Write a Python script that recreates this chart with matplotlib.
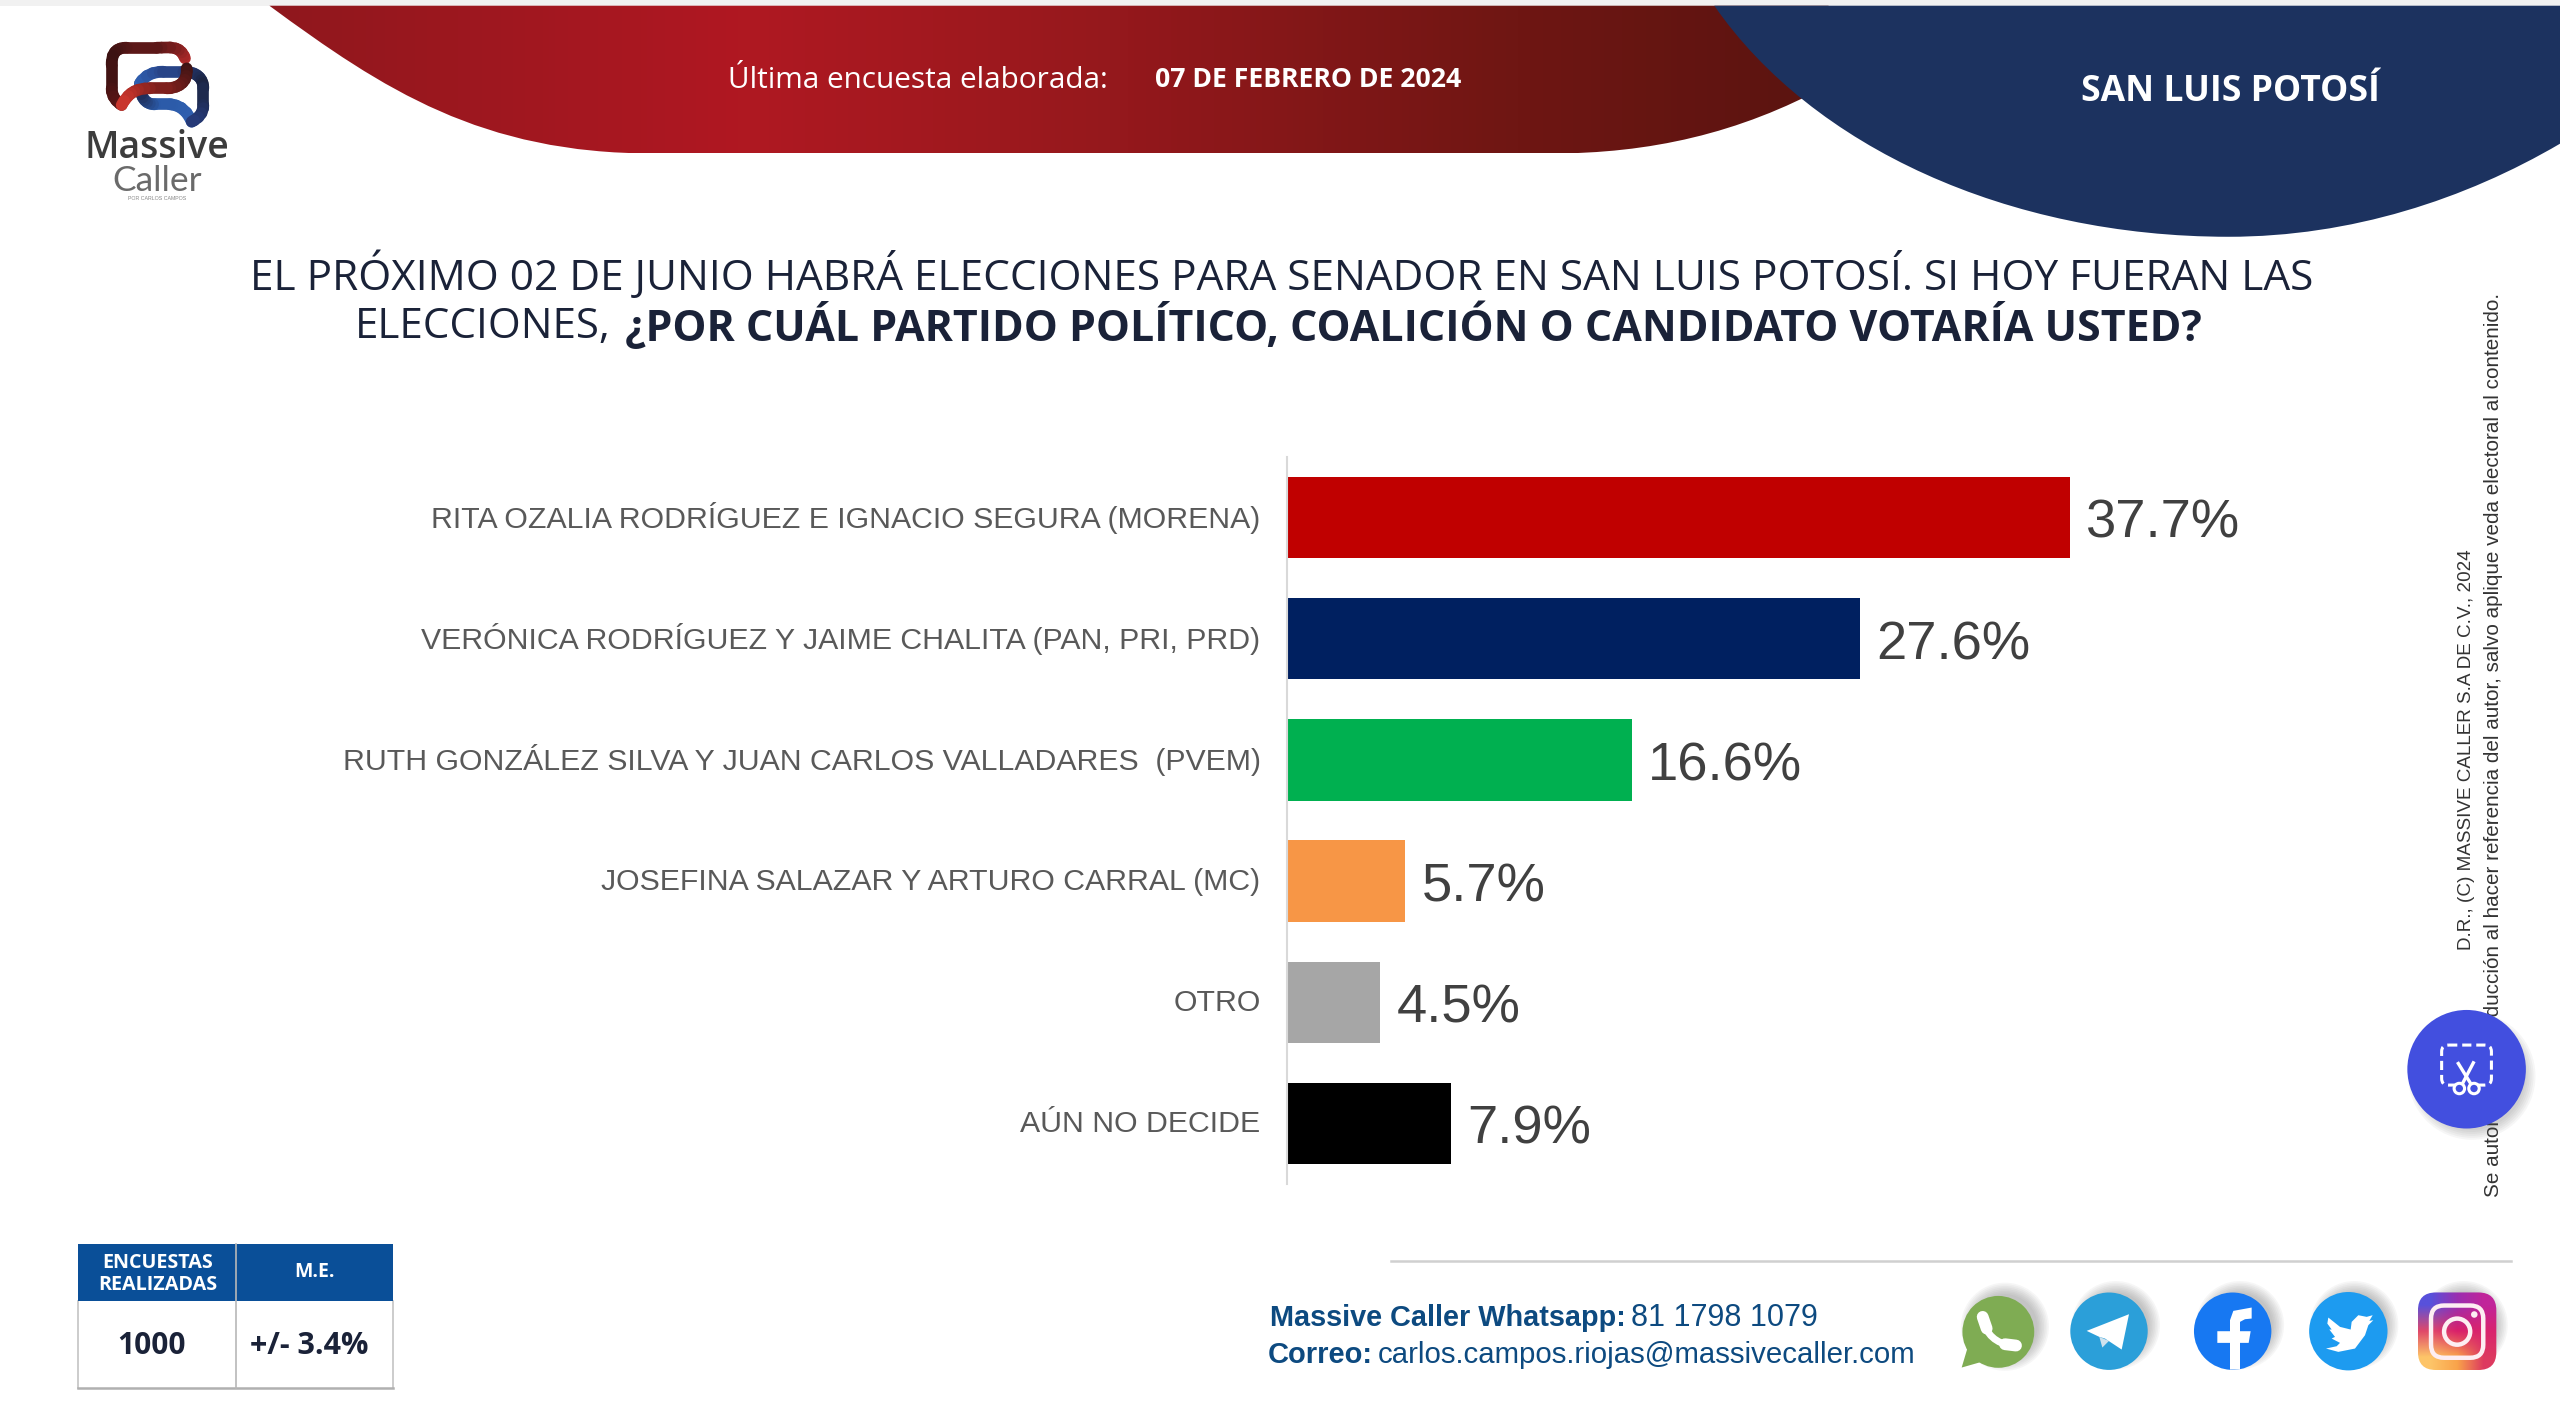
import numpy as np
import matplotlib
matplotlib.use("Agg")
import matplotlib.pyplot as plt
from matplotlib.patches import PathPatch, Circle, FancyBboxPatch, Rectangle, Polygon, Ellipse
from matplotlib.path import Path
from matplotlib.colors import LinearSegmentedColormap, to_rgb
from matplotlib.collections import LineCollection
from matplotlib.transforms import ScaledTranslation

categories = ["RITA OZALIA RODRÍGUEZ E IGNACIO SEGURA (MORENA)",
              "VERÓNICA RODRÍGUEZ Y JAIME CHALITA (PAN, PRI, PRD)",
              "RUTH GONZÁLEZ SILVA Y JUAN CARLOS VALLADARES  (PVEM)",
              "JOSEFINA SALAZAR Y ARTURO CARRAL (MC)",
              "OTRO",
              "AÚN NO DECIDE"]
values = [37.7, 27.6, 16.6, 5.7, 4.5, 7.9]
bar_colors = ["#c00000", "#002060", "#00b050", "#f79646", "#a6a6a6", "#000000"]

W, H = 2560, 1419
K = 2560/1568
fig = plt.figure(figsize=(W/100, H/100), dpi=100, facecolor="white")
SANS = "Liberation Sans"
HEAD = "Open Sans"

# ---------- chart ----------
ax = fig.add_axes([1287/W, 1-1184/H, 831/W, 727/H])
y = np.arange(len(values))
bars = ax.barh(y, values, height=0.67, color=bar_colors)
ax.set_xlim(0, 40)
ax.set_ylim(5.5, -0.5)
ax.set_yticks(y, categories, fontname=SANS, fontsize=21.8, color="#595959")
ax.tick_params(axis="y", length=0, pad=19)
for lab in ax.get_yticklabels():
    lab.set_transform(lab.get_transform() + ScaledTranslation(0, 0.025, fig.dpi_scale_trans))
ax.set_xticks([])
for s in ["top", "right", "bottom"]:
    ax.spines[s].set_visible(False)
ax.spines["left"].set_color("#d9d9d9")
ax.spines["left"].set_linewidth(1.5)
ax.patch.set_alpha(0)
for b, v in zip(bars, values):
    ax.annotate(f"{v}%", (v, b.get_y()+b.get_height()/2), xytext=(11.5, -4.5),
                textcoords="offset points", va="center", ha="left",
                fontname=SANS, fontsize=39.2, color="#404040")

# ---------- overlay in reference-view coordinates ----------
ov = fig.add_axes([0, 0, 1, 1], zorder=-1)
ov.set_xlim(0, 1568); ov.set_ylim(869, 0); ov.axis("off")

ov.add_patch(Rectangle((0, 0), 1568, 3.5, color="#f1f1f1", lw=0))

M, C, L, Z = Path.MOVETO, Path.CURVE4, Path.LINETO, Path.CLOSEPOLY
# red banner
red = Path([(165, 3.5), (235, 55), (295, 94), (400, 94), (600, 94), (760, 94), (950, 94),
            (1010, 94), (1065, 82), (1120, 52), (1120, 3.5), (165, 3.5)],
           [M, C, C, C, L, L, L, C, C, C, L, Z])
cm = LinearSegmentedColormap.from_list("r", [(0, "#8f171d"), (0.3, "#b01822"), (0.55, "#94181c"),
                                             (0.8, "#6f1613"), (1, "#5a1410")])
im = ov.imshow(np.linspace(0, 1, 256)[None, :], extent=[165, 1120, 94, 3.5], cmap=cm, aspect="auto", zorder=1)
im.set_clip_path(PathPatch(red, transform=ov.transData))

# navy banner
navy = Path([(1050, 3.5), (1110, 90), (1230, 145), (1365, 145), (1440, 145), (1510, 122), (1568, 88),
             (1568, 3.5), (1050, 3.5)], [M, C, C, C, C, C, C, L, Z])
ov.add_patch(PathPatch(navy, fc="#1c325f", lw=0, zorder=2))

ov.text(562, 49, "Última encuesta elaborada:", color="white", ha="center", va="center",
        fontname=HEAD, fontsize=21.4, zorder=3)
ov.text(801, 49, "07 DE FEBRERO DE 2024", color="white", ha="center", va="center",
        fontname=HEAD, fontsize=19.2, fontweight="bold", zorder=3)
ov.text(1366, 56.5, "SAN LUIS POTOSÍ", color="white", ha="center", va="center",
        fontname=HEAD, fontsize=25.6, fontweight="bold", zorder=3)

# logo
def z1(p):
    return ((60+p[0]/3)/K, (25+p[1]/3)/K)
def ribbon(points, codes, colors, lw=8.4, z=4):
    pth = Path([z1(p) for p in points], codes)
    poly = pth.interpolated(1).to_polygons(closed_only=False)[0]
    d = np.linspace(0, 1, len(poly)-1)
    rgb = LinearSegmentedColormap.from_list("g", colors)(d)
    segs = np.stack([poly[:-1], poly[1:]], axis=1)
    ov.add_collection(LineCollection(segs, colors=rgb, linewidths=lw, capstyle="round", zorder=z))
ribbon([(375, 100), (360, 60), (330, 68), (290, 68), (200, 68), (160, 68), (155, 95), (155, 120),
        (155, 190), (155, 215), (170, 230), (185, 240)],
       [M, C, C, C, L, C, C, C, L, C, C, C], ["#b02a2a", "#5e1818", "#3a1212", "#5a1616"], z=3)
ribbon([(380, 130), (385, 175), (350, 190), (320, 190), (270, 190), (225, 190), (205, 205), (185, 240)],
       [M, C, C, C, L, C, C, C], ["#3e1414", "#7a1e1c", "#c9352c"], z=5)
ribbon([(240, 175), (255, 150), (280, 140), (310, 140), (370, 140), (410, 140), (430, 160), (430, 190),
        (430, 240), (430, 265), (415, 280), (395, 290)],
       [M, C, C, C, L, C, C, C, L, C, C, C], ["#2f62b5", "#263a78", "#1b2440", "#263a78"], z=4)
ribbon([(395, 290), (385, 265), (365, 240), (330, 238), (285, 238), (255, 238), (240, 215), (240, 175)],
       [M, C, C, C, L, C, C, C], ["#3060b0", "#2b5aa8", "#1d2950"], z=2)
ov.text(96, 97, "Massive", ha="center", va="baseline", fontname=HEAD, fontweight="semibold",
        fontsize=27, color="#3c3c3c", zorder=3)
ov.text(96, 117, "Caller", ha="center", va="baseline", fontname="Lato", fontweight="normal",
        fontsize=25.5, color="#6a6a6a", zorder=3)
ov.text(96, 121.5, "POR CARLOS CAMPOS", ha="center", va="center", fontname=SANS, fontsize=3.8, color="#888888")

# question
NAVYTXT = "#1a2238"
ov.text(785, 169, "EL PRÓXIMO 02 DE JUNIO HABRÁ ELECCIONES PARA SENADOR EN SAN LUIS POTOSÍ. SI HOY FUERAN LAS",
        ha="center", va="center", fontname=HEAD, fontsize=30.5, color=NAVYTXT)
ov.text(374, 200.5, "ELECCIONES,", ha="right", va="center", fontname=HEAD, fontsize=30.3, color=NAVYTXT)
ov.text(383, 200, "¿POR CUÁL PARTIDO POLÍTICO, COALICIÓN O CANDIDATO VOTARÍA USTED?",
        ha="left", va="center", fontname=HEAD, fontsize=30.9, fontweight="bold", color=NAVYTXT)

# sample table
ov.plot([48, 48], [797, 850], color="#c4c4c4", lw=1.2)
ov.plot([241, 241], [797, 850], color="#c4c4c4", lw=1.2)
ov.plot([144.5, 144.5], [762, 850], color="#b8b8b8", lw=1.2, zorder=3)
ov.plot([48, 241], [849.8, 849.8], color="#b0b0b0", lw=1.8)
ov.add_patch(Rectangle((48, 762), 193, 35, fc="#0a4f98", lw=0, zorder=2))
ov.text(96.5, 780, "ENCUESTAS\nREALIZADAS", color="white", ha="center", va="center", fontname=HEAD,
        fontsize=14.2, fontweight="bold", linespacing=1.15, zorder=4)
ov.text(192.5, 779, "M.E.", color="white", ha="center", va="center", fontname=HEAD, fontsize=14, fontweight="bold", zorder=4)
ov.text(92.5, 824, "1000", color="#1a2238", ha="center", va="center", fontname=HEAD, fontsize=21.5, fontweight="bold")
ov.text(189.5, 824, "+/- 3.4%", color="#1a2238", ha="center", va="center", fontname=HEAD, fontsize=22, fontweight="bold")

# footer
ov.plot([852, 1538], [772, 772], color="#d0d0d0", lw=1.8)
FB = "#0d4a80"
ov.text(996, 807, "Massive Caller Whatsapp:", ha="right", va="center", fontname=SANS, fontsize=20.8, fontweight="bold", color=FB)
ov.text(999, 807, "81 1798 1079", ha="left", va="center", fontname=SANS, fontsize=22, color=FB)
ov.text(841, 830, "Correo:", ha="right", va="center", fontname=SANS, fontsize=21, fontweight="bold", color=FB)
ov.text(844, 830, "carlos.campos.riojas@massivecaller.com", ha="left", va="center", fontname=SANS, fontsize=21.2, color=FB)

# social icons
def z2(zx, zy):
    return ((1940+zx/3)/K, (1270+zy/3)/K)
def z3(zx, zy):
    return ((2230+zx/3)/K, (1270+zy/3)/K)
def shadow(cx, cy, r):
    for g in np.linspace(4, -3, 8):
        ov.add_patch(Ellipse((cx+4, cy-3.5), 2*(r+g), 2*(r+g), fc="#666666", alpha=0.055, lw=0, zorder=2))
for cx, cy in [(1224, 816), (1292, 815), (1368, 815), (1438, 815), (1505, 815)]:
    shadow(cx, cy, 23)

# whatsapp
ov.add_patch(Circle(z2(175, 185), 22, fc="#7fac53", lw=0, zorder=3))
ov.add_patch(Polygon([z2(85, 225), z2(65, 292), z2(135, 272)], fc="#7fac53", lw=0, zorder=3))
phone = Path([z2(132, 150), z2(135, 190), z2(170, 222), z2(215, 225)], [M, C, C, C])
ov.add_patch(PathPatch(phone, fc="none", ec="white", lw=5, capstyle="round", zorder=4))
ov.plot(*zip(z2(128, 140), z2(140, 175)), color="white", lw=8.5, solid_capstyle="round", zorder=4)
ov.plot(*zip(z2(195, 222), z2(228, 226)), color="white", lw=8.5, solid_capstyle="round", zorder=4)

# telegram
ov.add_patch(Circle(z2(507, 183), 23.7, fc="#2b9fd9", lw=0, zorder=3))
ov.add_patch(Polygon([z2(478, 200), z2(487, 232), z2(507, 212)], fc="#cfe2ee", lw=0, zorder=4))
ov.add_patch(Polygon([z2(440, 182), z2(567, 132), z2(545, 238), z2(495, 205), z2(478, 200)], fc="white", lw=0, zorder=4))

# facebook
ov.add_patch(Circle(z2(878, 183), 23.7, fc="#1778f2", lw=0, zorder=3))
f_shape = [(870, 298), (870, 218), (832, 218), (832, 183), (870, 183), (870, 150), (880, 122), (935, 112),
           (935, 145), (915, 147), (900, 155), (900, 183), (932, 183), (926, 218), (900, 218), (900, 298)]
ov.add_patch(Polygon([z2(*p) for p in f_shape], fc="white", lw=0, zorder=4))

# twitter
ov.add_patch(Circle(z3(355, 183), 24, fc="#1d9bf0", lw=0, zorder=3))
bird = [(295, 142), (330, 170), (362, 178), (365, 155), (385, 135), (410, 140), (428, 135), (418, 152),
        (430, 150), (415, 165), (405, 195), (375, 235), (325, 245), (288, 235), (320, 228), (330, 218),
        (305, 205), (315, 200), (298, 178), (305, 178), (292, 160)]
ov.add_patch(Polygon([z3(*p) for p in bird], fc="white", lw=0, zorder=4))

# instagram
ig_rows = [["#5851DB", "#9A2FB0", "#C1259A"],
           ["#E0486A", "#D91F6A", "#D9246E"],
           ["#FDC468", "#F9A34A", "#DD3A60"]]
ig_img = np.array([[to_rgb(c) for c in row] for row in ig_rows])
box = FancyBboxPatch((1481, 791.5), 48, 47.5, boxstyle="round,pad=0,rounding_size=11",
                     transform=ov.transData, fc="none", lw=0)
ov.add_patch(box)
im2 = ov.imshow(ig_img, extent=[1481, 1529, 839, 791.5], aspect="auto", interpolation="bilinear", zorder=3)
im2.set_clip_path(box)
ov.add_patch(FancyBboxPatch((1489, 799.5), 32, 32, boxstyle="round,pad=0,rounding_size=8", fc="none", ec="#fdeef2", lw=3.2, zorder=4))
ov.add_patch(Circle((1505, 815.5), 8, fc="none", ec="#fdeef2", lw=3.2, zorder=4))
ov.add_patch(Circle((1515.5, 805), 2, fc="#fdeef2", lw=0, zorder=4))

# vertical legal text
ov.text(1527, 456.5, "Se autoriza la reproducción al hacer referencia del autor, salvo aplique veda electoral al contenido.",
        rotation=90, ha="center", va="center", fontname=SANS, fontsize=14.9, color="#333333", zorder=1)
ov.text(1511, 459, "D.R., (C) MASSIVE CALLER S.A DE C.V., 2024",
        rotation=90, ha="center", va="center", fontname=SANS, fontsize=13.6, color="#333333", zorder=1)

# floating button
for g in np.linspace(3, -3, 6):
    ov.add_patch(Circle((1514, 659), 36+g, fc="#555555", alpha=0.05, lw=0, zorder=5))
ov.add_patch(Circle((1510.8, 654.8), 36.3, fc="#424fdf", lw=0, zorder=6))
ov.add_patch(FancyBboxPatch((1495.5, 640), 30.5, 24.5, boxstyle="round,pad=0,rounding_size=4", fc="none",
                            ec="white", lw=2.2, ls=(0, (3.0, 1.6)), zorder=7))
def z4(zx, zy):
    return ((2390+zx/3)/K, (990+zy/3)/K)
ov.add_patch(Rectangle(z4(195, 255), 62/3/K, 35/3/K, fc="#424fdf", lw=0, zorder=7.5))
ov.plot(*zip(z4(205, 220), z4(245, 285)), color="white", lw=2.4, zorder=8)
ov.plot(*zip(z4(250, 218), z4(215, 285)), color="white", lw=2.4, zorder=8)
ov.add_patch(Circle(z4(208, 295), 3.2, fc="#424fdf", ec="white", lw=2.2, zorder=9))
ov.add_patch(Circle(z4(252, 295), 3.2, fc="#424fdf", ec="white", lw=2.2, zorder=9))

ov.set_xlim(0, 1568); ov.set_ylim(869, 0)
fig.savefig("out.png", dpi=100, facecolor="white")
